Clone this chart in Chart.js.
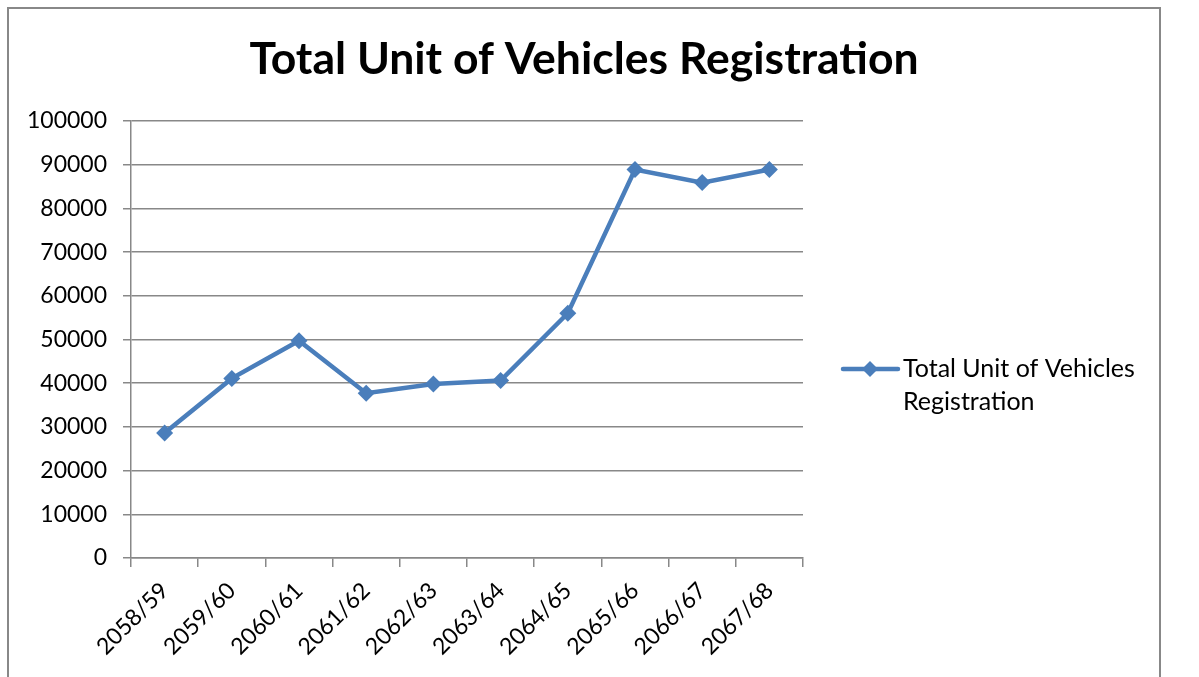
<!DOCTYPE html>
<html>
<head>
<meta charset="utf-8">
<script src="https://cdn.jsdelivr.net/npm/chart.js@4.4.1/dist/chart.umd.min.js"></script>
<style>
  html, body { margin: 0; padding: 0; background: #fff; }
  #wrap { position: relative; width: 1199px; height: 677px; }
</style>
</head>
<body>
<div id="wrap"><canvas id="chart" width="1199" height="677"></canvas></div>
<script>
// chart data
const titleText = 'Total Unit of Vehicles Registration'
const seriesLabel = 'Total Unit of Vehicles Registration'
const years = ['2058/59', '2059/60', '2060/61', '2061/62', '2062/63', '2063/64', '2064/65', '2065/66', '2066/67', '2067/68']
const registrations = [28600, 41100, 49700, 37700, 39800, 40600, 56000, 88900, 85900, 88900]
const yTicks = [0, 10000, 20000, 30000, 40000, 50000, 60000, 70000, 80000, 90000, 100000]

const FONT = 'Lato, "Open Sans", sans-serif'
const LINE_BLUE = '#4a7ebb'
const AXIS_GRAY = '#888888'

// frame, title and the right-hand legend (Excel look)
const decorations = {
  id: 'decorations',
  beforeDraw(chart) {
    const { ctx, width, height } = chart
    ctx.save()
    ctx.fillStyle = '#ffffff'
    ctx.fillRect(0, 0, width, height)
    ctx.strokeStyle = AXIS_GRAY
    ctx.lineWidth = 2
    ctx.beginPath()
    ctx.moveTo(8, height)
    ctx.lineTo(8, 8)
    ctx.lineTo(1160, 8)
    ctx.lineTo(1160, height)
    ctx.stroke()
    ctx.restore()
  },
  afterDraw(chart) {
    const { ctx } = chart
    ctx.save()
    // title
    ctx.fillStyle = '#000'
    ctx.font = 'bold 44.5px ' + FONT
    ctx.textAlign = 'center'
    ctx.textBaseline = 'alphabetic'
    ctx.fillText(titleText, 584, 74)

    // legend
    const ds = chart.data.datasets[0]
    const lx = 843, ly = 369
    ctx.strokeStyle = ds.borderColor
    ctx.lineWidth = 4.5
    ctx.lineCap = 'round'
    ctx.beginPath()
    ctx.moveTo(lx, ly)
    ctx.lineTo(lx + 55, ly)
    ctx.stroke()
    ctx.fillStyle = ds.borderColor
    ctx.beginPath()
    ctx.moveTo(lx + 27 - 8, ly)
    ctx.lineTo(lx + 27, ly - 8)
    ctx.lineTo(lx + 27 + 8, ly)
    ctx.lineTo(lx + 27, ly + 8)
    ctx.closePath()
    ctx.fill()

    ctx.fillStyle = '#000'
    ctx.font = '25px ' + FONT
    ctx.textAlign = 'left'
    ctx.textBaseline = 'middle'
    const words = ds.label.split(' ')
    const lines = []
    let cur = ''
    words.forEach(w => {
      const test = cur ? cur + ' ' + w : w
      if (ctx.measureText(test).width > 250 && cur) {
        lines.push(cur)
        cur = w
      } else {
        cur = test
      }
    })
    if (cur) lines.push(cur)
    lines.forEach((t, i) => ctx.fillText(t, lx + 60, ly + i * 33))
    ctx.restore()
  }
}

new Chart(document.getElementById('chart'), {
  type: 'line',
  data: {
    labels: years,
    datasets: [{
      label: seriesLabel,
      data: registrations,
      borderColor: LINE_BLUE,
      backgroundColor: LINE_BLUE,
      borderWidth: 4.5,
      tension: 0,
      pointStyle: 'rectRot',
      pointRadius: 8.5,
      pointHoverRadius: 8.5,
      pointBorderWidth: 0,
      pointBackgroundColor: LINE_BLUE,
    }]
  },
  options: {
    responsive: false,
    animation: false,
    layout: { padding: { left: 0, top: 121, right: 396, bottom: 0 } },
    plugins: {
      legend: { display: false },
      title: { display: false },
      tooltip: { enabled: false },
    },
    scales: {
      x: {
        offset: true,
        afterFit(scale) { scale.height = 119 },
        grid: {
          offset: true,
          drawOnChartArea: false,
          drawTicks: true,
          tickLength: 9,
          color: AXIS_GRAY,
          lineWidth: 1.5,
        },
        border: { display: true, color: AXIS_GRAY, width: 1.5 },
        ticks: {
          color: '#000',
          font: { family: FONT, size: 23 },
          minRotation: 45,
          maxRotation: 45,
          padding: 10,
          autoSkip: false,
        },
      },
      y: {
        min: 0,
        max: 100000,
        afterFit(scale) { scale.width = 131 },
        afterBuildTicks(scale) { scale.ticks = yTicks.map(v => ({ value: v })) },
        grid: {
          color: AXIS_GRAY,
          lineWidth: 1.5,
          drawTicks: true,
          tickLength: 8,
        },
        border: { display: true, color: AXIS_GRAY, width: 1.5 },
        ticks: {
          color: '#000',
          font: { family: FONT, size: 23 },
          padding: 16,
          callback: v => String(v),
        },
      },
    },
  },
  plugins: [decorations],
})
</script>
</body>
</html>
